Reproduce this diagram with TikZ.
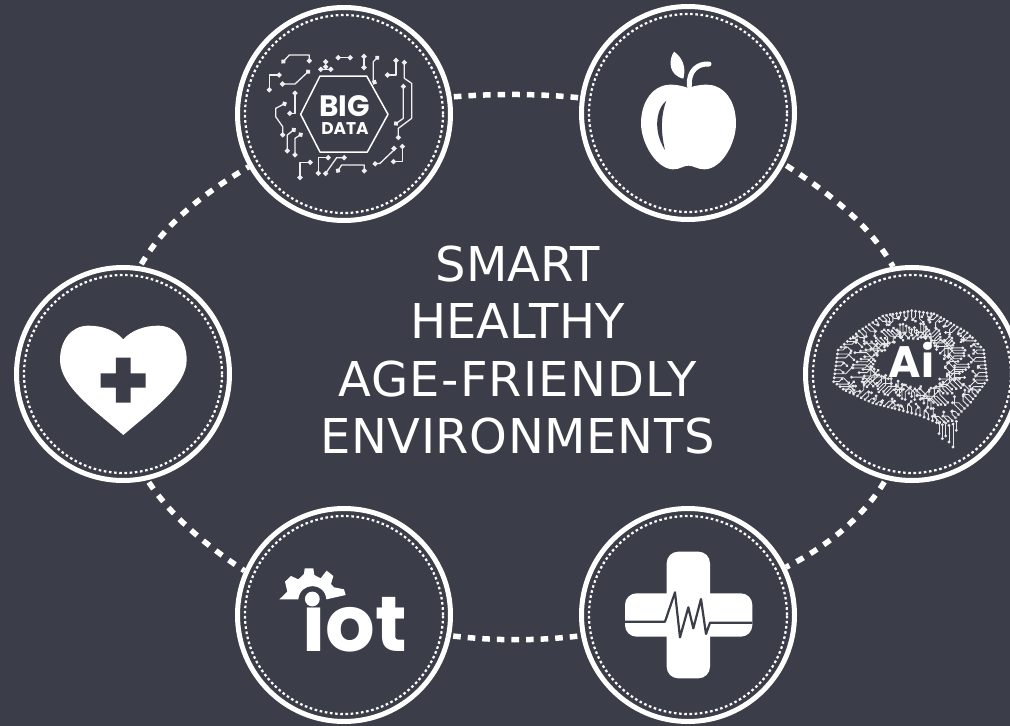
\documentclass[tikz,border=0pt]{standalone}
\usepackage{fontspec}
\setmainfont{DejaVu Sans}
\newfontfamily\popf{Poppins}
\usetikzlibrary{calc,arrows.meta}
\definecolor{bgc}{HTML}{3B3D49}
\tikzset{
  badge/.style={circle,draw=white,line width=5pt,minimum size=213pt,inner sep=0pt,fill=bgc},
  innerdots/.style={draw=white,line width=2.2pt,dash pattern=on 2.6pt off 2.6pt},
  linkdash/.style={draw=white,line width=5.5pt,dash pattern=on 8pt off 8pt,dash phase=13.5pt},
  flatdash/.style={draw=white,line width=5.5pt,dash pattern=on 7.6pt off 7pt,dash phase=12.4pt},
  circuit/.style={draw=white!92!bgc,line width=1.3pt,line join=round,{Circle[length=5pt]}-{Circle[length=5pt]}},
  brainwire/.style={draw=white!88!bgc,line width=.85pt,line join=round,{Circle[length=2.8pt]}-{Circle[length=2.8pt]}},
  zoomA/.style={x=.33333pt,y=-.33333pt},
  label/.style={text=white,inner sep=0pt,outer sep=0pt}
}
\begin{document}
\begin{tikzpicture}[x=1pt,y=-1pt]
\useasboundingbox (0,0) rectangle (1010,726);
\fill[bgc] (0,0) rectangle (1010,726);
% badges
\node[badge] (bigdata) at (344,114) {};
\node[badge] (apple) at (688,113) {};
\node[badge] (heart) at (123,374) {};
\node[badge] (ai) at (912,374) {};
\node[badge] (iot) at (344,615) {};
\node[badge] (medical) at (688,615) {};
\foreach \n in {bigdata,apple,heart,ai,iot,medical}
  \draw[innerdots] (\n.center) circle[radius=99pt];
% connectors
\draw[flatdash] (bigdata.9) .. controls (495,93.5) and (537,93.5) .. (apple.172);
\draw[linkdash] (apple.-28) .. controls (834,196) and (870,226) .. (ai.100);
\draw[linkdash] (ai.-104) .. controls (865,515) and (830,545) .. (medical.26);
\draw[flatdash] (iot.-11) .. controls (495,641) and (537,641) .. (medical.191);
\draw[linkdash] (heart.-77) .. controls (170,515) and (205,545) .. (iot.156);
\draw[linkdash] (heart.81) .. controls (163,226) and (199,196) .. (bigdata.209);
% title
\node[label,align=center,anchor=center,font=\fontsize{48}{57.3}\selectfont] (title) at (517.5,350) {SMART\\HEALTHY\\{\addfontfeature{LetterSpace=2.6}AGE-FRIENDLY}\\{\addfontfeature{LetterSpace=1.2}ENVIRONMENTS}};
% big data icon
\begin{scope}[shift={(230,0)},zoomA]
\draw[white,line width=1.5pt,line join=round] (212,343)--(270,228)--(410,228)--(474,343)--(412,456)--(270,456)--cycle;
\node[label,anchor=base,text depth=0pt] (bigtext) at (344,350) {\popf\bfseries\fontsize{29.5}{30}\selectfont BIG};
\node[label,anchor=base,text height=12pt,text depth=0pt] (datatext) at (345,402) {\popf\bfseries\fontsize{17}{18}\selectfont DATA};
\draw[circuit] (155,190)--(178,165)--(238,165)--(238,190);
\draw[circuit] (240,210)--(195,252)--(150,252);
\draw[circuit] (155,225)--(118,225)--(118,277);
\draw[circuit] (265,208)--(310,208);
\draw[circuit] (287,178)--(287,208);
\draw[circuit] (317,173)--(368,173);
\draw[circuit] (402,162)--(402,210);
\draw[circuit] (447,168)--(430,185)--(430,245)--(440,250);
\draw[circuit] (498,174)--(498,225)--(465,225);
\draw[circuit] (523,180)--(523,235)--(545,250)--(545,355)--(505,385)--(505,420);
\draw[circuit] (520,252)--(520,355)--(492,375);
\draw[circuit] (517,432)--(517,485)--(483,485);
\draw[circuit] (492,438)--(492,450)--(450,490)--(428,492);
\draw[circuit] (403,520)--(403,495)--(335,495)--(320,518);
\draw[circuit] (350,473)--(320,473)--(287,520)--(287,528);
\draw[circuit] (302,473)--(265,473)--(265,527);
\draw[circuit] (248,487)--(210,487)--(210,540);
\draw[circuit] (218,400)--(195,415)--(195,472);
\draw[circuit] (197,385)--(172,405)--(172,460);
\draw[circuit] (158,412)--(158,380)--(137,350)--(137,325)--(170,308);
\draw[circuit] (195,272)--(195,340)--(172,340);
\end{scope}
% apple icon
\begin{scope}[shift={(575,0)},zoomA]
\fill[white] (340,264) .. controls (315,255) and (285,250) .. (262,258)
  .. controls (220,272) and (198,320) .. (198,370)
  .. controls (198,430) and (245,508) .. (295,508)
  .. controls (315,508) and (325,497) .. (340,497)
  .. controls (355,497) and (368,508) .. (388,508)
  .. controls (440,508) and (483,430) .. (483,370)
  .. controls (483,320) and (462,272) .. (420,258)
  .. controls (395,250) and (365,255) .. (340,264) -- cycle;
\fill[bgc] (274,302) .. controls (245,325) and (232,390) .. (270,450)
  .. controls (258,400) and (256,350) .. (274,302) -- cycle;
\fill[white] (297,155) .. controls (280,180) and (280,225) .. (325,236)
  .. controls (335,200) and (320,170) .. (297,155) -- cycle;
\draw[white,line width=5pt,line cap=round] (343,258) .. controls (340,210) and (370,190) .. (402,192);
\end{scope}
% heart icon
\begin{scope}[shift={(10,260)},zoomA]
\fill[white] (340,238) .. controls (315,210) and (275,197) .. (235,197)
  .. controls (185,197) and (150,240) .. (150,300)
  .. controls (150,380) and (260,455) .. (340,525)
  .. controls (420,455) and (530,380) .. (530,300)
  .. controls (530,240) and (495,197) .. (445,197)
  .. controls (405,197) and (365,210) .. (340,238) -- cycle;
\fill[bgc] (318,293)--(362,293)--(362,340)--(407,340)--(407,383)--(362,383)--(362,428)--(318,428)--(318,383)--(272,383)--(272,340)--(318,340)--cycle;
\end{scope}
% medical icon
\begin{scope}[shift={(575,500)},zoomA]
\fill[white,rounded corners=11.5pt] (275,155) rectangle (405,535);
\fill[white,rounded corners=11.5pt] (150,280) rectangle (532,410);
\draw[bgc,line width=2.2pt,line join=round] (150,365)--(270,365)--(300,277)--(315,412)--(340,322)--(355,385)--(378,297)--(393,402)--(405,368)--(532,368);
\end{scope}
% iot icon
\begin{scope}[shift={(230,500)},zoomA]
\node[label,anchor=base] (iottext) at (374,455) {\popf\bfseries\fontsize{78}{78}\selectfont iot};
\fill[bgc] (247,275) circle[radius=14pt];
\fill[white] (247,297) circle[radius=7.4pt];
\fill[white] (148,298)--(172,275)--(165,245)--(183,228)--(205,238)--(222,222)--(224,205)--(250,205)--(253,225)--(272,235)--(290,212)--(310,228)--(303,252)--(312,262)--(342,268)--(347,285)--(289,298)
  .. controls (285,245) and (210,245) .. (205,298) -- cycle;
\end{scope}
% ai icon
\begin{scope}[shift={(825,300)},zoomA]
\foreach \ax/\ay/\bx/\by/\cnt in {22/245/35/150/8,35/150/100/90/7,100/90/170/45/7,170/45/260/28/8,260/28/330/38/6,330/38/430/95/10,430/95/480/150/6,480/150/490/240/8,490/240/440/310/7,440/310/385/365/6,385/365/335/372/4,335/372/285/350/4,285/350/210/330/6,210/330/140/312/6,140/312/60/275/7,60/275/22/245/4}{
  \foreach \k in {1,...,\cnt}{
    \pgfmathtruncatemacro\hh{mod(int(\ax*3+\ay*7+\k*11),5)}
    \pgfmathsetmacro\px{\ax+(\bx-\ax)*\k/\cnt}
    \pgfmathsetmacro\py{\ay+(\by-\ay)*\k/\cnt}
    \pgfmathsetmacro\ang{atan2(185-\py,260-\px)}
    \pgfmathsetmacro\snap{45*round(\ang/45)}
    \pgfmathsetmacro\dist{veclen(260-\px,185-\py)}
    \pgfmathsetmacro\fa{.15+.045*mod(\hh,4)}
    \pgfmathsetmacro\la{\dist*\fa*.55}
    \pgfmathsetmacro\lb{\dist*\fa*.45}
    \pgfmathsetmacro\turn{45*(mod(\k,2)*2-1)}
    \pgfmathsetmacro\fb{\dist*(\fa+.075)}
    \pgfmathsetmacro\fc{\dist*((.6-.03*mod(\hh,3))-\fa-.075)}
    \pgfmathsetmacro\lc{\fc*.5}
    \pgfmathsetmacro\sa{\snap+\turn}
    \pgfmathsetmacro\sb{\snap-\turn}
    \draw[brainwire] (\px,\py) -- ++(\snap:\la) -- ++(\sa:\lb);
    \draw[brainwire] ($(\px,\py)+(\ang:\fb)$) -- ++(\snap:\lc) -- ++(\sb:\lc);
  }
}
\foreach \sx/\sa/\sb in {342/365/405,352/370/420,362/365/412,372/372/430,384/368/445,394/360/395}
  \draw[brainwire] (\sx,\sa)--(\sx,\sb);
\node[label,anchor=base] (aitext) at (259,232) {\popf\bfseries\fontsize{44}{44}\selectfont Ai};
\end{scope}
\end{tikzpicture}
\end{document}
